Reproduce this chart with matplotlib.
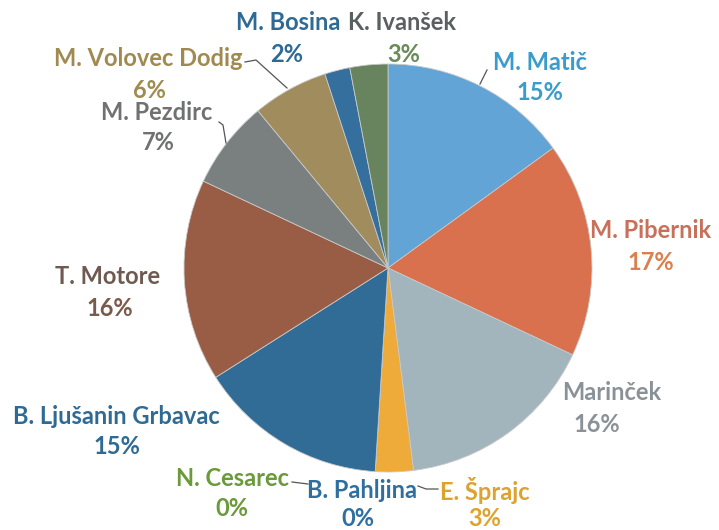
import matplotlib
matplotlib.use("Agg")
import matplotlib.pyplot as plt

names = ["M. Matič", "M. Pibernik", "Marinček", "E. Šprajc", "B. Pahljina",
         "N. Cesarec", "B. Ljušanin Grbavac", "T. Motore", "M. Pezdirc",
         "M. Volovec Dodig", "M. Bosina", "K. Ivanšek"]
values = [15, 17, 16, 3, 0, 0, 15, 16, 7, 6, 2, 3]
slice_colors = ["#62a4d5", "#d9714f", "#a2b4bc", "#eeab3a", "#2f6fa6", "#6a9a3a",
                "#306c95", "#995c45", "#7a8080", "#a08c5c", "#356f9e", "#67845f"]
name_colors = ["#3a9ccc", "#c8705a", "#8a9298", "#dea22e", "#2e6fa0", "#6a9a3a",
               "#2e6a94", "#6e5a50", "#707272", "#a08a50", "#2e6a94", "#5a6060"]
pct_colors = ["#3a9ccc", "#d9804e", "#8a9298", "#dea22e", "#2e6fa0", "#6a9a3a",
              "#2e6a94", "#7a5a4a", "#707272", "#a08a50", "#2e6a94", "#6a8a5a"]

W, H = 719, 530
fig = plt.figure(figsize=(W / 100, H / 100), dpi=100)
ax = fig.add_axes([0, 0, 1, 1])

cx, cy, r = 388, 530 - 268, 204
ax.pie(values, colors=slice_colors, startangle=90, counterclock=False,
       center=(cx, cy), radius=r,
       wedgeprops=dict(linewidth=0.6, edgecolor="#c8c8c8"))
ax.set_xlim(0, W)
ax.set_ylim(0, H)
ax.set_aspect("auto")
ax.axis("off")

# label positions in pixel coordinates (x, y_from_top) for name and percentage
name_pos = [(540, 62), (651, 230), (612, 393), (485, 490), (362, 490),
            (232, 478), (116, 417), (108, 277), (157, 113),
            (148, 58), (288, 22), (402, 22)]
pct_pos = [(540, 93), (651, 262), (597, 425), (485, 519), (358, 519),
           (232, 508), (117, 447), (110, 308), (158, 143),
           (149, 90), (287, 55), (404, 55)]

fs = 17
for i, n in enumerate(names):
    x, y = name_pos[i]
    ax.text(x, H - y, n, ha="center", va="center", fontsize=fs,
            family="Lato", weight="bold", color=name_colors[i])
    x, y = pct_pos[i]
    ax.text(x, H - y, f"{values[i]}%", ha="center", va="center", fontsize=fs,
            family="Lato", weight="bold", color=pct_colors[i])

# leader lines
lc = "#555555"
lines = [
    [(487, 70), (480, 84)],
    [(245, 62), (256, 60), (287, 88)],
    [(219, 122), (223, 125), (226, 143)],
    [(292, 482), (308, 484)],
    [(418, 486), (426, 489), (438, 489)],
]
for pts in lines:
    xs = [p[0] for p in pts]
    ys = [H - p[1] for p in pts]
    ax.plot(xs, ys, color=lc, lw=0.9)

fig.savefig("out.png", dpi=100)
